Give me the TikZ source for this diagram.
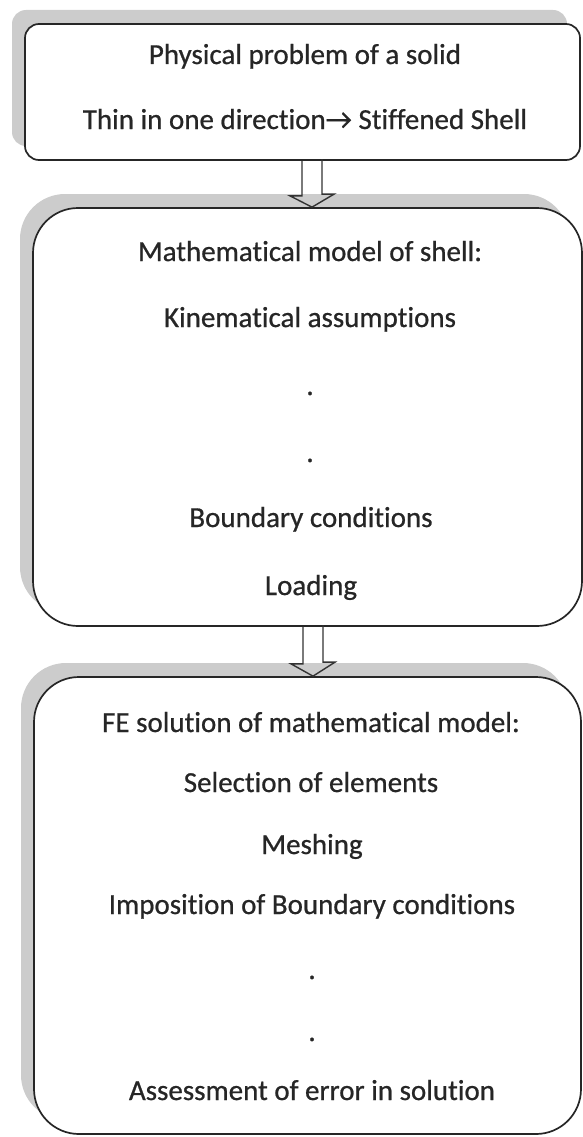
\documentclass[tikz,border=0pt]{standalone}
\usepackage{fontspec}
\setmainfont{Carlito}
\newfontfamily\lblfont{Carlito}[FakeBold=0.7,Ligatures=NoCommon]
\usetikzlibrary{calc,shadows}

\begin{document}
\begin{tikzpicture}[x=1pt,y=-1pt,
  box/.style={draw=black!85,line width=1.7pt,fill=white,rounded corners=#1,inner sep=0pt,
    drop shadow={shadow xshift=-13pt,shadow yshift=14pt,fill=gray!45,opacity=0.9}},
  txt/.style={anchor=base,text=black!85,inner sep=0pt,font=\lblfont\fontsize{29}{34}\selectfont},
  blockarrow/.style={draw=black!80,line width=1.4pt,line join=miter}]

\useasboundingbox (0,0) rectangle (582,1137);

% the three boxes
\node[box=14pt,minimum width=555pt,minimum height=136pt] (prob) at (302.5,92) {};
\node[box=45pt,minimum width=549pt,minimum height=418pt] (model) at (307.5,417) {};
\node[box=45pt,minimum width=547pt,minimum height=457pt] (fesol) at (307.5,905.5) {};

% texts
\node[txt] (phys) at (305,64) {Physical problem of a solid};
\node[txt] (thin) at (305,129) {Thin in one direction→ Stiffened Shell};

\node[txt] (math) at (310,261) {Mathematical model of shell:};
\node[txt] (kin) at (310,327) {Kinematical assumptions};
\node[txt] (dotA) at (310,395) {.};
\node[txt] (dotB) at (310,462) {.};
\node[txt] (bound) at (311,527) {Boundary conditions};
\node[txt] (load) at (311,595) {Loading};

\node[txt] (fe) at (311,732) {FE solution of mathematical model:};
\node[txt] (sel) at (311,792) {Selection of elements};
\node[txt] (mesh) at (312,854) {Meshing};
\node[txt] (impo) at (312,914) {Imposition of Boundary conditions};
\node[txt] (dotC) at (312,979) {.};
\node[txt] (dotD) at (312,1041) {.};
\node[txt] (assess) at (312,1100) {Assessment of error in solution};

% hollow arrows between the boxes
\draw[blockarrow] ($(prob.south)+(-0.5,0)$) -- ++(0,35) -- ++(-12,0)
  -- ($(model.north)+(4.5,0)$) -- ++(22,-13) -- ++(-12,0) -- ++(0,-35);
\draw[blockarrow] ($(model.south)+(-4.5,0)$) -- ++(0,37) -- ++(-12,0)
  -- ($(fesol.north)+(5.5,0)$) -- ++(22,-14) -- ++(-12,0) -- ++(0,-37);
\end{tikzpicture}
\end{document}
